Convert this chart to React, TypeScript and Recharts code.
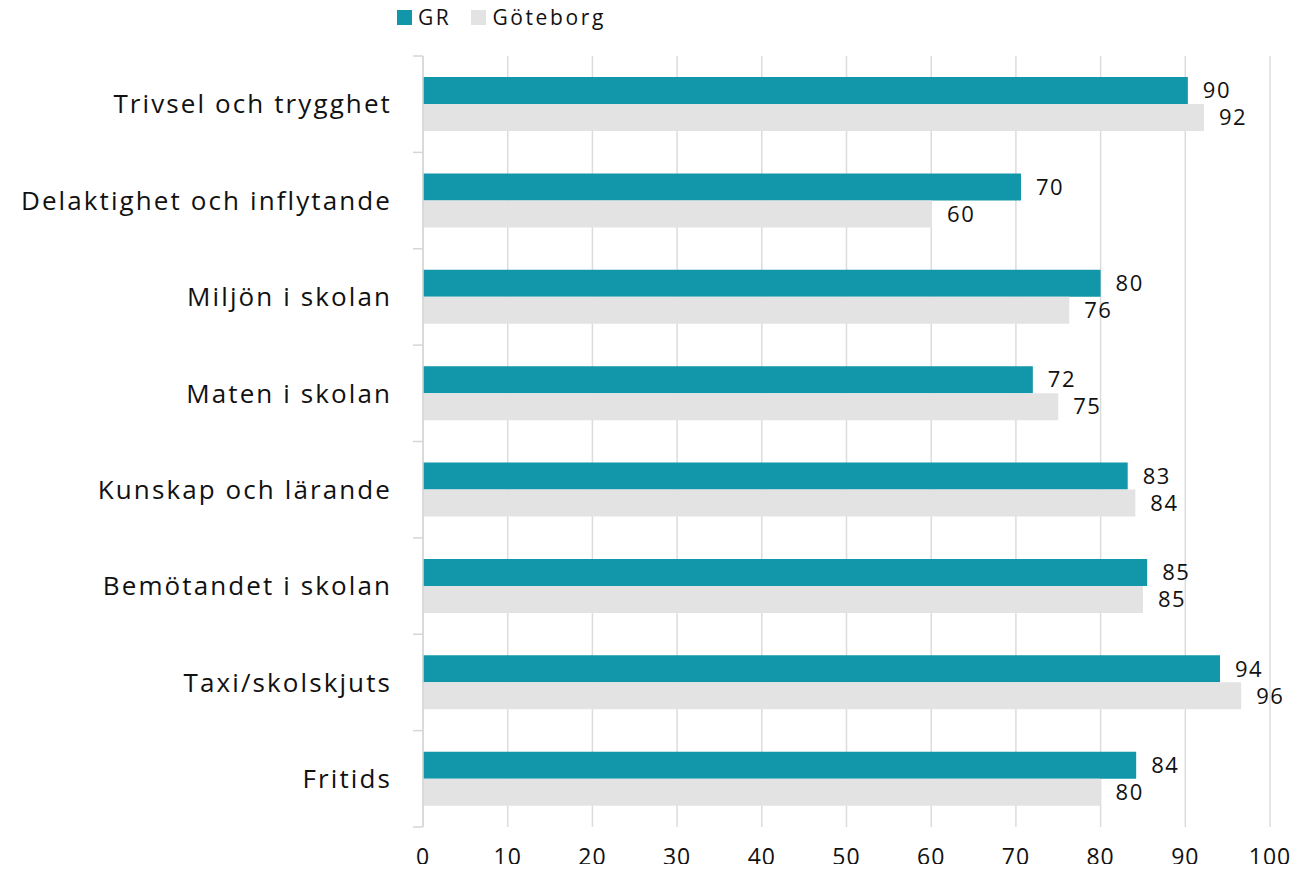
import React from "react";
import {
  BarChart,
  Bar,
  XAxis,
  YAxis,
  CartesianGrid,
  Legend,
  LabelList,
} from "recharts";

const categories = [
  "Trivsel och trygghet",
  "Delaktighet och inflytande",
  "Miljön i skolan",
  "Maten i skolan",
  "Kunskap och lärande",
  "Bemötandet i skolan",
  "Taxi/skolskjuts",
  "Fritids",
];
const grValues = [90.3, 70.6, 80.0, 72.0, 83.2, 85.5, 94.1, 84.2];
const gbgValues = [92.2, 60.1, 76.3, 75.0, 84.1, 85.0, 96.6, 80.0];
const xTicks = [0, 10, 20, 30, 40, 50, 60, 70, 80, 90, 100];

const TEAL = "#1197A9";
const GREY = "#E3E3E3";
const AXIS = "#D6D6D6";
const FONT = "'Open Sans', 'Noto Sans', sans-serif";
const TICK_MARGIN = 31;

const data = categories.map((name, i) => ({
  name,
  gr: grValues[i],
  gbg: gbgValues[i],
}));

const legendItems = [
  { label: "GR", color: TEAL },
  { label: "Göteborg", color: GREY },
];

function ChartLegend() {
  return (
    <div
      style={{
        height: 56,
        display: "flex",
        alignItems: "flex-start",
        paddingTop: 3,
        paddingLeft: 397,
        boxSizing: "border-box",
        fontFamily: FONT,
        fontSize: 21,
        letterSpacing: 2.6,
        color: "#111",
      }}
    >
      {legendItems.map((it) => (
        <div
          key={it.label}
          style={{ display: "flex", alignItems: "center", marginRight: 20 }}
        >
          <span
            style={{
              width: 15,
              height: 15,
              background: it.color,
              display: "inline-block",
              marginRight: 6,
            }}
          />
          <span>{it.label}</span>
        </div>
      ))}
    </div>
  );
}

// category label plus Excel-style tick marks between the categories
function CategoryTick(props: any) {
  const { x, y, payload, index, visibleTicksCount } = props;
  const half = payload.offset || 0;
  const ax = x + TICK_MARGIN;
  const last = index === visibleTicksCount - 1;
  return (
    <g>
      <line x1={ax - 10} x2={ax} y1={y - half} y2={y - half} stroke={AXIS} strokeWidth={1.5} />
      {last && (
        <line x1={ax - 10} x2={ax} y1={y + half} y2={y + half} stroke={AXIS} strokeWidth={1.5} />
      )}
      <text
        x={x}
        y={y}
        dy="0.355em"
        textAnchor="end"
        fontSize={26}
        fill="#111"
        fontFamily={FONT}
        letterSpacing={2.1}
      >
        {payload.value}
      </text>
    </g>
  );
}

// labels in the original are truncated, not rounded
const fmt = (v: any) => Math.floor(Number(v));

const labelStyle = {
  fontSize: 22,
  fill: "#111",
  fontFamily: FONT,
  letterSpacing: 1.5,
};

export default function App() {
  return (
    <div style={{ margin: -8 }}>
      <BarChart
        width={1304}
        height={872}
        data={data}
        layout="vertical"
        margin={{ top: 0, right: 34, bottom: 0, left: 0 }}
        barGap={0}
        barSize={27}
      >
        <Legend
          verticalAlign="top"
          align="left"
          content={<ChartLegend />}
          wrapperStyle={{ left: 0, top: 0, width: 1304 }}
        />
        <CartesianGrid horizontal={false} stroke="#DCDCDC" strokeWidth={1.5} />
        <XAxis
          type="number"
          domain={[0, 100]}
          ticks={xTicks}
          axisLine={false}
          tickLine={false}
          tickSize={0}
          tickMargin={22}
          height={45}
          interval={0}
          tick={{ fontSize: 23, fill: "#111", fontFamily: FONT, letterSpacing: 1 }}
        />
        <YAxis
          type="category"
          dataKey="name"
          width={423}
          axisLine={{ stroke: AXIS, strokeWidth: 1.5 }}
          tickLine={false}
          tickSize={0}
          tickMargin={TICK_MARGIN}
          interval={0}
          tick={<CategoryTick />}
        />
        <Bar dataKey="gr" name="GR" fill={TEAL} isAnimationActive={false}>
          <LabelList dataKey="gr" position="right" offset={15} formatter={fmt} style={labelStyle} />
        </Bar>
        <Bar dataKey="gbg" name="Göteborg" fill={GREY} isAnimationActive={false}>
          <LabelList dataKey="gbg" position="right" offset={15} formatter={fmt} style={labelStyle} />
        </Bar>
      </BarChart>
    </div>
  );
}
